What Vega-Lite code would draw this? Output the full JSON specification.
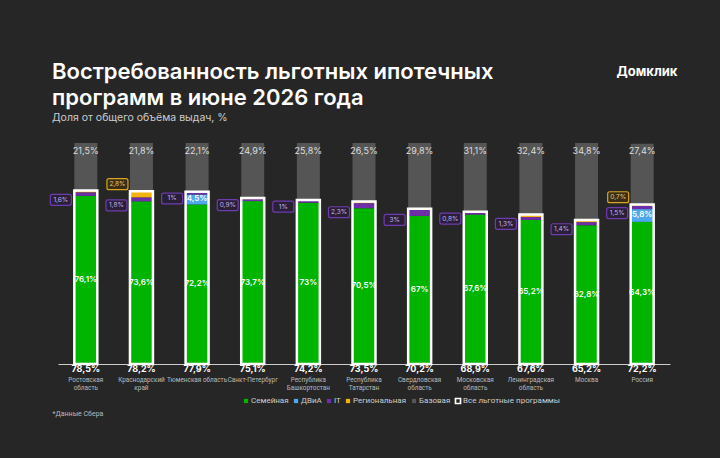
{
  "$schema": "https://vega.github.io/schema/vega-lite/v6.json",
  "autosize": {"type": "none"},
  "padding": {"left": 58, "top": 143, "right": 50, "bottom": 94},
  "width": 612,
  "height": 221,
  "background": "#262626",
  "title": {
    "text": ["Востребованность льготных ипотечных", "программ в июне 2026 года"],
    "subtitle": "Доля от общего объёма выдач, %",
    "anchor": "start",
    "frame": "group",
    "dx": -6,
    "offset": -59,
    "font": "Inter",
    "fontSize": 22,
    "fontWeight": 600,
    "color": "#ffffff",
    "lineHeight": 26,
    "subtitleFont": "Inter",
    "subtitleFontSize": 10.5,
    "subtitleColor": "#cccccc",
    "subtitlePadding": 3
  },
  "datasets": {
    "main": [
      {"region": "Ростовская|область", "program": "Семейная", "ord": 1, "value": 0.761},
      {"region": "Ростовская|область", "program": "IT", "ord": 3, "value": 0.016},
      {"region": "Ростовская|область", "program": "Региональная", "ord": 4, "value": 0.008},
      {"region": "Ростовская|область", "program": "Базовая", "ord": 5, "value": 0.215},
      {"region": "Краснодарский|край", "program": "Семейная", "ord": 1, "value": 0.736},
      {"region": "Краснодарский|край", "program": "IT", "ord": 3, "value": 0.018},
      {"region": "Краснодарский|край", "program": "Региональная", "ord": 4, "value": 0.028},
      {"region": "Краснодарский|край", "program": "Базовая", "ord": 5, "value": 0.218},
      {"region": "Тюменская область", "program": "Семейная", "ord": 1, "value": 0.722},
      {"region": "Тюменская область", "program": "ДВиА", "ord": 2, "value": 0.045},
      {"region": "Тюменская область", "program": "IT", "ord": 3, "value": 0.010},
      {"region": "Тюменская область", "program": "Региональная", "ord": 4, "value": 0.002},
      {"region": "Тюменская область", "program": "Базовая", "ord": 5, "value": 0.221},
      {"region": "Санкт-Петербург", "program": "Семейная", "ord": 1, "value": 0.737},
      {"region": "Санкт-Петербург", "program": "IT", "ord": 3, "value": 0.009},
      {"region": "Санкт-Петербург", "program": "Региональная", "ord": 4, "value": 0.005},
      {"region": "Санкт-Петербург", "program": "Базовая", "ord": 5, "value": 0.249},
      {"region": "Республика|Башкортостан", "program": "Семейная", "ord": 1, "value": 0.730},
      {"region": "Республика|Башкортостан", "program": "IT", "ord": 3, "value": 0.010},
      {"region": "Республика|Башкортостан", "program": "Региональная", "ord": 4, "value": 0.002},
      {"region": "Республика|Башкортостан", "program": "Базовая", "ord": 5, "value": 0.258},
      {"region": "Республика|Татарстан", "program": "Семейная", "ord": 1, "value": 0.705},
      {"region": "Республика|Татарстан", "program": "IT", "ord": 3, "value": 0.023},
      {"region": "Республика|Татарстан", "program": "Региональная", "ord": 4, "value": 0.007},
      {"region": "Республика|Татарстан", "program": "Базовая", "ord": 5, "value": 0.265},
      {"region": "Свердловская|область", "program": "Семейная", "ord": 1, "value": 0.670},
      {"region": "Свердловская|область", "program": "IT", "ord": 3, "value": 0.030},
      {"region": "Свердловская|область", "program": "Региональная", "ord": 4, "value": 0.002},
      {"region": "Свердловская|область", "program": "Базовая", "ord": 5, "value": 0.298},
      {"region": "Московская|область", "program": "Семейная", "ord": 1, "value": 0.676},
      {"region": "Московская|область", "program": "IT", "ord": 3, "value": 0.008},
      {"region": "Московская|область", "program": "Региональная", "ord": 4, "value": 0.005},
      {"region": "Московская|область", "program": "Базовая", "ord": 5, "value": 0.311},
      {"region": "Ленинградская|область", "program": "Семейная", "ord": 1, "value": 0.652},
      {"region": "Ленинградская|область", "program": "IT", "ord": 3, "value": 0.013},
      {"region": "Ленинградская|область", "program": "Региональная", "ord": 4, "value": 0.011},
      {"region": "Ленинградская|область", "program": "Базовая", "ord": 5, "value": 0.324},
      {"region": "Москва", "program": "Семейная", "ord": 1, "value": 0.628},
      {"region": "Москва", "program": "IT", "ord": 3, "value": 0.014},
      {"region": "Москва", "program": "Региональная", "ord": 4, "value": 0.010},
      {"region": "Москва", "program": "Базовая", "ord": 5, "value": 0.348},
      {"region": "Россия", "program": "Семейная", "ord": 1, "value": 0.643},
      {"region": "Россия", "program": "ДВиА", "ord": 2, "value": 0.058},
      {"region": "Россия", "program": "IT", "ord": 3, "value": 0.015},
      {"region": "Россия", "program": "Региональная", "ord": 4, "value": 0.007},
      {"region": "Россия", "program": "Базовая", "ord": 5, "value": 0.274}
    ],
    "totals": [
      {"region": "Ростовская|область", "total": 0.785, "base": 0.215},
      {"region": "Краснодарский|край", "total": 0.782, "base": 0.218},
      {"region": "Тюменская область", "total": 0.779, "base": 0.221},
      {"region": "Санкт-Петербург", "total": 0.751, "base": 0.249},
      {"region": "Республика|Башкортостан", "total": 0.742, "base": 0.258},
      {"region": "Республика|Татарстан", "total": 0.735, "base": 0.265},
      {"region": "Свердловская|область", "total": 0.702, "base": 0.298},
      {"region": "Московская|область", "total": 0.689, "base": 0.311},
      {"region": "Ленинградская|область", "total": 0.676, "base": 0.324},
      {"region": "Москва", "total": 0.652, "base": 0.348},
      {"region": "Россия", "total": 0.722, "base": 0.274}
    ]
  },
  "encoding": {
    "x": {
      "field": "region",
      "type": "nominal",
      "sort": null,
      "scale": {
        "domain": ["Ростовская|область", "Краснодарский|край", "Тюменская область", "Санкт-Петербург", "Республика|Башкортостан", "Республика|Татарстан", "Свердловская|область", "Московская|область", "Ленинградская|область", "Москва", "Россия"],
        "paddingInner": 0.587,
        "paddingOuter": 0.2935
      },
      "axis": {
        "title": "*Данные Сбера",
        "titleX": -6,
        "titleY": 49,
        "titleAlign": "left",
        "titleAnchor": "start",
        "titleBaseline": "middle",
        "titleFont": "Roboto",
        "titleFontSize": 7,
        "titleFontWeight": "normal",
        "titleColor": "#bbbbbb",
        "labelExpr": "split(datum.label, '|')",
        "labelAngle": 0,
        "labelFont": "Roboto",
        "labelFontSize": 6.4,
        "labelColor": "#bbbbbb",
        "labelPadding": 12,
        "labelLineHeight": 8.5,
        "labelBaseline": "top",
        "labelOverlap": false,
        "labelBound": false,
        "ticks": false,
        "domainColor": "#cccccc",
        "domainWidth": 1
      }
    }
  },
  "layer": [
    {
      "data": {"name": "main"},
      "mark": {"type": "bar"},
      "encoding": {
        "y": {
          "field": "value",
          "type": "quantitative",
          "stack": "zero",
          "title": "Домклик",
          "scale": {"domain": [0, 1], "nice": false}
        },
        "color": {
          "field": "program",
          "type": "nominal",
          "scale": {
            "domain": ["Семейная", "ДВиА", "IT", "Региональная", "Базовая", "Все льготные программы"],
            "range": ["#00b400", "#4ea8ec", "#6c2fa8", "#f2b20f", "#555555", "#ffffff"]
          },
          "legend": {
            "title": null,
            "orient": "none",
            "legendX": 184,
            "legendY": 254,
            "direction": "horizontal",
            "columns": 6,
            "symbolType": "square",
            "symbolSize": 42,
            "labelFont": "Roboto",
            "labelFontSize": 8,
            "labelColor": "#cccccc",
            "labelOffset": 1,
            "columnPadding": 3,
            "encode": {
              "symbols": {
                "update": {
                  "shape": {"signal": "datum.value === 'Все льготные программы' ? 'M-1,-1H1V1H-1ZM-0.5,-0.5V0.5H0.5V-0.5Z' : 'square'"},
                  "fill": {"signal": "scale('color', datum.value)"},
                  "strokeWidth": {"value": 0},
                  "size": {"signal": "datum.value === 'Все льготные программы' ? 45 : 18"}
                }
              }
            }
          }
        },
        "order": {"field": "ord", "type": "quantitative"}
      }
    },
    {
      "data": {"name": "totals"},
      "mark": {"type": "bar", "fill": "transparent", "stroke": "#ffffff", "strokeWidth": 2.5},
      "encoding": {
        "y": {"field": "total", "type": "quantitative", "title": "Домклик"}
      }
    },
    {
      "data": {"name": "totals"},
      "mark": {"type": "text", "baseline": "top", "dy": 4, "font": "Inter", "fontSize": 9, "color": "#dddddd"},
      "encoding": {
        "y": {"datum": 1, "type": "quantitative", "title": "Домклик"},
        "text": {"field": "base", "type": "quantitative", "format": ".1~%"}
      }
    },
    {
      "data": {"name": "totals"},
      "mark": {"type": "text", "baseline": "top", "dy": 1, "font": "Inter", "fontSize": 9, "fontWeight": "bold", "color": "#ffffff"},
      "encoding": {
        "y": {"datum": 0, "type": "quantitative", "title": "Домклик"},
        "text": {"field": "total", "type": "quantitative", "format": ".1~%"}
      }
    },
    {
      "data": {"name": "main"},
      "mark": {"type": "text", "baseline": "middle", "font": "Inter", "fontSize": 8, "fontWeight": 600, "color": "#ffffff"},
      "encoding": {
        "y": {"field": "value", "type": "quantitative", "stack": "zero", "bandPosition": 0.5, "title": "Домклик"},
        "detail": {"field": "program", "type": "nominal"},
        "order": {"field": "ord", "type": "quantitative"},
        "text": {"field": "value", "type": "quantitative", "format": ".1~%"},
        "opacity": {"condition": {"test": "datum.program === 'Семейная' || datum.program === 'ДВиА'", "value": 1}, "value": 0}
      }
    },
    {
      "data": {"name": "main"},
      "transform": [
        {"stack": "value", "groupby": ["region"], "sort": [{"field": "ord", "order": "ascending"}], "as": ["v0", "v1"]},
        {"filter": "datum.program === 'IT'"}
      ],
      "layer": [
        {
          "mark": {"type": "point", "shape": "M-0.81,-0.52H0.81Q1,-0.52 1,-0.33V0.33Q1,0.52 0.81,0.52H-0.81Q-1,0.52 -1,0.33V-0.33Q-1,-0.52 -0.81,-0.52Z", "size": 441, "filled": true, "fill": "#2a2036", "fillOpacity": 1, "stroke": "#6f3bb0", "strokeWidth": 1.2, "strokeOpacity": 1, "opacity": 1, "xOffset": -25, "yOffset": 4},
          "encoding": {
            "y": {"field": "v0", "type": "quantitative", "title": "Домклик"}
          }
        },
        {
          "mark": {"type": "text", "baseline": "middle", "dx": -25, "dy": 4, "font": "Inter", "fontSize": 6.5, "color": "#c9aef0"},
          "encoding": {
            "y": {"field": "v0", "type": "quantitative", "title": "Домклик"},
            "text": {"field": "value", "type": "quantitative", "format": ".1~%"}
          }
        }
      ]
    },
    {
      "data": {"name": "main"},
      "transform": [
        {"stack": "value", "groupby": ["region"], "sort": [{"field": "ord", "order": "ascending"}], "as": ["v0", "v1"]},
        {"filter": "datum.program === 'Региональная' && (datum.region === 'Краснодарский|край' || datum.region === 'Россия')"}
      ],
      "layer": [
        {
          "mark": {"type": "point", "shape": "M-0.81,-0.52H0.81Q1,-0.52 1,-0.33V0.33Q1,0.52 0.81,0.52H-0.81Q-1,0.52 -1,0.33V-0.33Q-1,-0.52 -0.81,-0.52Z", "size": 441, "filled": true, "fill": "#3a2f16", "fillOpacity": 1, "stroke": "#d9a420", "strokeWidth": 1.2, "strokeOpacity": 1, "opacity": 1, "xOffset": -24, "yOffset": -7},
          "encoding": {
            "y": {"field": "v1", "type": "quantitative", "title": "Домклик"}
          }
        },
        {
          "mark": {"type": "text", "baseline": "middle", "dx": -24, "dy": -7, "font": "Inter", "fontSize": 6.5, "color": "#ebc76e"},
          "encoding": {
            "y": {"field": "v1", "type": "quantitative", "title": "Домклик"},
            "text": {"field": "value", "type": "quantitative", "format": ".1~%"}
          }
        }
      ]
    }
  ],
  "config": {
    "view": {"stroke": null},
    "locale": {"number": {"decimal": ",", "thousands": " ", "grouping": [3], "currency": ["", " ₽"]}},
    "font": "Inter",
    "axisY": {
      "titleAngle": 0,
      "titleX": 558,
      "titleY": -72,
      "titleAlign": "left",
      "titleBaseline": "middle",
      "titleFont": "Inter",
      "titleFontSize": 13,
      "titleFontWeight": "bold",
      "titleColor": "#ffffff",
      "domain": false,
      "ticks": false,
      "labelOpacity": 0,
      "grid": false
    }
  }
}
